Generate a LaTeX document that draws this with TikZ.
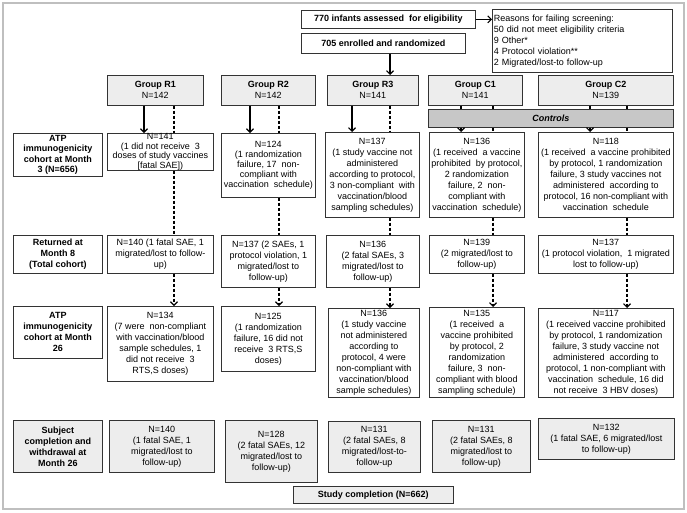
\documentclass[tikz,border=0pt]{standalone}
\usepackage{fontspec}
\setmainfont{Liberation Sans}
\usetikzlibrary{arrows.meta}

\begin{document}
\begin{tikzpicture}[x=1pt,y=-1pt,
    box/.style={draw=black!80, line width=0.7pt, anchor=north west, align=center,
      inner sep=1pt, font=\fontsize{9}{11}\selectfont},
    tight/.style={font=\fontsize{9}{10.2}\selectfont},
    grp/.style={box, fill=black!7},
    lbl/.style={box, execute at begin node=\bfseries},
    sz/.style 2 args={minimum width=#1pt, minimum height=#2pt},
    >={Straight Barb[length=3.5pt,width=7pt]},
    flow/.style={->, line width=1.1pt},
    dashline/.style={line width=1.1pt, dash pattern=on 3pt off 2pt}
  ]
  \useasboundingbox (0,0) rectangle (687,512);
  \draw[black!25, line width=1.5pt] (3,3) rectangle (684,509);

  \node[lbl, sz={174}{18}] (n770) at (301,10) {770 infants assessed\ \ for eligibility};
  \node[box, sz={180}{63}, align=left, text width=177pt, inner xsep=1.5pt] (reasons) at (492,9)
    {Reasons for failing screening:\\50 did not meet eligibility criteria\\9 Other*\\4 Protocol violation**\\2 Migrated/lost-to follow-up};
  \node[lbl, sz={164}{20}] (n705) at (301,33) {705 enrolled and randomized};

  \node[grp, sz={96}{30}] (g1) at (107,75) {\textbf{Group R1}\\N=142};
  \node[grp, sz={94}{30}] (g2) at (221,75) {\textbf{Group R2}\\N=142};
  \node[grp, sz={91}{30}] (g3) at (327,75) {\textbf{Group R3}\\N=141};
  \node[grp, sz={94}{30}] (g4) at (428,75) {\textbf{Group C1}\\N=141};
  \node[grp, sz={135}{30}] (g5) at (538,75) {\textbf{Group C2}\\N=139};
  \node[lbl, fill=black!22, sz={245}{18}, execute at begin node=\bfseries\itshape] (ctl) at (428,109) {Controls};

  \node[lbl, tight, sz={89}{43}] (la) at (13,133) {ATP\\immunogenicity\\cohort at Month\\3 (N=656)};
  \node[lbl, sz={89}{38}] (lb) at (13,235) {Returned at\\Month 8\\(Total cohort)};
  \node[lbl, sz={89}{52}] (lc) at (13,306) {ATP\\immunogenicity\\cohort at Month\\26};
  \node[lbl, fill=black!7, sz={89}{52}] (ld) at (13,420) {Subject\\completion and\\withdrawal at\\Month 26};

  \node[box, font=\fontsize{9}{9.6}\selectfont, inner ysep=0pt, sz={106}{37}] (a1) at (107,133) {N=141\\(1 did not receive\ \ 3\\doses of study vaccines\\{[fatal SAE])}};
  \node[box, tight, sz={94}{64}] (a2) at (221,133) {N=124\\(1 randomization\\failure, 17\ \ non-\\compliant with\\vaccination\ \ schedule)};
  \node[box, sz={94}{85}] (a3) at (325,132) {N=137\\(1 study vaccine not\\administered\\according to protocol,\\3 non-compliant\ \ with\\vaccination/blood\\sampling schedules)};
  \node[box, sz={95}{85}] (a4) at (429,132) {N=136\\(1 received\ \ a vaccine\\prohibited\ \ by protocol,\\2 randomization\\failure, 2\ \ non-\\compliant with\\vaccination\ \ schedule)};
  \node[box, sz={135}{85}] (a5) at (538,132) {N=118\\(1 received\ \ a vaccine prohibited\\by protocol, 1 randomization\\failure, 3 study vaccines not\\administered\ \ according to\\protocol, 16 non-compliant with\\vaccination\ \ schedule};

  \node[box, sz={106}{38}] (b1) at (107,235) {N=140 (1 fatal SAE, 1\\migrated/lost to follow-\\up)};
  \node[box, sz={94}{52}] (b2) at (221,235) {N=137 (2 SAEs, 1\\protocol violation, 1\\migrated/lost to\\follow-up)};
  \node[box, sz={93}{52}] (b3) at (326,235) {N=136\\(2 fatal SAEs, 3\\migrated/lost to\\follow-up)};
  \node[box, sz={95}{38}] (b4) at (429,235) {N=139\\(2 migrated/lost to\\follow-up)};
  \node[box, sz={135}{38}] (b5) at (538,235) {N=137\\(1 protocol violation,\ \ 1 migrated\\lost to follow-up)};

  \node[box, sz={106}{75}] (c1) at (107,306) {N=134\\(7 were\ \ non-compliant\\with vaccination/blood\\sample schedules, 1\\did not receive\ \ 3\\RTS,S doses)};
  \node[box, sz={94}{65}] (c2) at (221,306) {N=125\\(1 randomization\\failure, 16 did not\\receive\ \ 3 RTS,S\\doses)};
  \node[box, sz={91}{89}] (c3) at (328,308) {N=136\\(1 study vaccine\\not administered\\according to\\protocol, 4 were\\non-compliant with\\vaccination/blood\\sample schedules)};
  \node[box, sz={95}{90}] (c4) at (429,307) {N=135\\(1 received\ \ a\\vaccine prohibited\\by protocol, 2\\randomization\\failure, 3\ \ non-\\compliant with blood\\sampling schedule)};
  \node[box, sz={135}{89}] (c5) at (538,308) {N=117\\(1 received vaccine prohibited\\by protocol, 1 randomization\\failure, 3 study vaccine not\\administered\ \ according to\\protocol, 1 non-compliant with\\vaccination\ \ schedule, 16 did\\not receive\ \ 3 HBV doses)};

  \node[grp, sz={105}{52}] (e1) at (109,420) {N=140\\(1 fatal SAE, 1\\migrated/lost to\\follow-up)};
  \node[grp, sz={92}{62}] (e2) at (225,420) {N=128\\(2 fatal SAEs, 12\\migrated/lost to\\follow-up)};
  \node[grp, sz={92}{51}] (e3) at (328,421) {N=131\\(2 fatal SAEs, 8\\migrated/lost-to-\\follow-up};
  \node[grp, sz={98}{52}] (e4) at (432,420) {N=131\\(2 fatal SAEs, 8\\migrated/lost to\\follow-up)};
  \node[grp, sz={136}{41}] (e5) at (538,418) {N=132\\(1 fatal SAE, 6 migrated/lost\\to follow-up)};
  \node[lbl, fill=black!7, sz={160}{17}] (done) at (293,486) {Study completion (N=662)};

  \draw[flow] (n770.east) -- (n770.east -| reasons.west);
  \draw[flow] (n705.south -| 390,0) -- (g3.north -| 390,0);

  \draw[flow] (g1.south -| 144,0) -- (a1.north -| 144,0);
  \draw[flow] (g2.south -| 250,0) -- (a2.north -| 250,0);
  \draw[flow] (g3.south -| 352,0) -- (a3.north -| 352,0);
  \draw[line width=1.1pt] (g4.south -| 461,0) -- (ctl.north -| 461,0);
  \draw[flow] (ctl.south -| 461,0) -- (a4.north -| 461,0);
  \draw[line width=1.1pt] (g5.south -| 590,0) -- (ctl.north -| 590,0);
  \draw[flow] (ctl.south -| 590,0) -- (a5.north -| 590,0);

  \draw[dashline] (g1.south -| 174,0) -- (a1.north -| 174,0);
  \draw[dashline] (g2.south -| 279,0) -- (a2.north -| 279,0);
  \draw[dashline] (g3.south -| 390,0) -- (a3.north -| 390,0);
  \draw[dashline] (g4.south -| 493,0) -- (ctl.north -| 493,0);
  \draw[dashline] (ctl.south -| 493,0) -- (a4.north -| 493,0);
  \draw[dashline] (g5.south -| 627,0) -- (ctl.north -| 627,0);
  \draw[dashline] (ctl.south -| 627,0) -- (a5.north -| 627,0);

  \draw[dashline] (a1.south -| 174,0) -- (b1.north -| 174,0);
  \draw[dashline] (a2.south -| 279,0) -- (b2.north -| 279,0);
  \draw[dashline] (a3.south -| 390,0) -- (b3.north -| 390,0);
  \draw[dashline] (a4.south -| 493,0) -- (b4.north -| 493,0);
  \draw[dashline] (a5.south -| 627,0) -- (b5.north -| 627,0);

  \draw[dashline,->] (b1.south -| 174,0) -- (c1.north -| 174,0);
  \draw[dashline,->] (b2.south -| 279,0) -- (c2.north -| 279,0);
  \draw[dashline,->] (b3.south -| 390,0) -- (c3.north -| 390,0);
  \draw[dashline,->] (b4.south -| 493,0) -- (c4.north -| 493,0);
  \draw[dashline,->] (b5.south -| 627,0) -- (c5.north -| 627,0);
\end{tikzpicture}
\end{document}
